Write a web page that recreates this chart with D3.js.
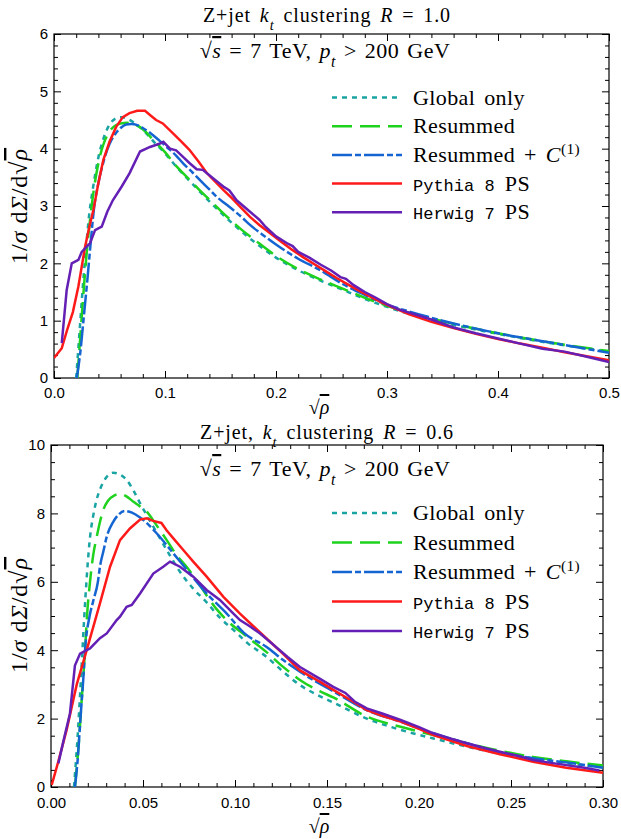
<!DOCTYPE html>
<html>
<head>
<meta charset="utf-8">
<script src="https://cdnjs.cloudflare.com/ajax/libs/d3/7.8.5/d3.min.js"></script>
<style>
body { margin: 0; background: #fff; }
svg text { font-family: "Liberation Serif", "DejaVu Serif", serif; fill: #000; }
.tick text { font-family: "Liberation Sans", Arial, sans-serif; font-size: 15px; }
.tick line { stroke: #000; }
.mono { font-family: "Liberation Mono", "DejaVu Sans Mono", monospace; }
</style>
</head>
<body>
<svg id="chart" width="621" height="839"></svg>
<script>
// ---- data: [sqrt(rho), 1/sigma dSigma/dsqrt(rho)] ----

// R = 1.0
var r10Global = [[0.020,0],[0.023,0.8],[0.026,1.6],[0.029,2.3],[0.032,2.9],[0.035,3.3],[0.04,3.85],[0.045,4.2],[0.05,4.42],[0.055,4.52],[0.06,4.55],[0.065,4.53],[0.07,4.48],[0.08,4.33],[0.09,4.12],[0.1,3.92],[0.11,3.69],[0.12,3.48],[0.13,3.28],[0.14,3.08],[0.15,2.89],[0.16,2.71],[0.17,2.54],[0.18,2.38],[0.2,2.1],[0.22,1.88],[0.24,1.7],[0.26,1.54],[0.28,1.38],[0.3,1.24],[0.35,0.97],[0.4,0.77],[0.45,0.6],[0.5,0.46]];
var r10Resum = [[0.021,0],[0.024,0.8],[0.027,1.6],[0.03,2.3],[0.033,2.85],[0.036,3.3],[0.04,3.75],[0.045,4.1],[0.05,4.3],[0.055,4.4],[0.06,4.44],[0.066,4.45],[0.07,4.44],[0.075,4.4],[0.08,4.34],[0.09,4.14],[0.1,3.94],[0.11,3.7],[0.12,3.5],[0.13,3.3],[0.14,3.11],[0.15,2.92],[0.16,2.74],[0.17,2.57],[0.18,2.42],[0.2,2.13],[0.22,1.9],[0.24,1.72],[0.26,1.56],[0.28,1.4],[0.3,1.26],[0.32,1.14],[0.35,0.99],[0.4,0.78],[0.45,0.61],[0.5,0.47]];
var r10ResumC1 = [[0.0205,0],[0.024,0.5],[0.027,1.1],[0.03,1.7],[0.033,2.35],[0.036,2.95],[0.04,3.4],[0.045,3.8],[0.05,4.08],[0.055,4.25],[0.06,4.36],[0.065,4.42],[0.07,4.43],[0.075,4.41],[0.08,4.36],[0.087,4.27],[0.095,4.14],[0.1015,4.03],[0.11,3.88],[0.1165,3.74],[0.125,3.58],[0.1315,3.45],[0.14,3.29],[0.1466,3.16],[0.155,3.03],[0.1615,2.93],[0.17,2.79],[0.1766,2.67],[0.19,2.47],[0.2,2.33],[0.22,2.08],[0.24,1.88],[0.26,1.64],[0.28,1.45],[0.3,1.28],[0.32,1.16],[0.35,1.0],[0.4,0.78],[0.45,0.61],[0.5,0.44]];
var r10Pythia = [[0,0.35],[0.007,0.52],[0.012,0.85],[0.017,1.15],[0.022,1.6],[0.028,2.29],[0.032,2.65],[0.0355,2.93],[0.04,3.4],[0.0444,3.8],[0.05,4.12],[0.056,4.38],[0.062,4.55],[0.068,4.62],[0.075,4.66],[0.082,4.66],[0.087,4.58],[0.092,4.5],[0.098,4.44],[0.107,4.27],[0.115,4.12],[0.122,3.98],[0.13,3.78],[0.1375,3.58],[0.145,3.43],[0.1525,3.28],[0.16,3.14],[0.168,2.98],[0.1766,2.81],[0.185,2.67],[0.195,2.52],[0.205,2.37],[0.215,2.23],[0.225,2.1],[0.235,1.98],[0.245,1.86],[0.255,1.74],[0.265,1.63],[0.275,1.52],[0.285,1.42],[0.295,1.32],[0.305,1.23],[0.32,1.11],[0.34,0.98],[0.36,0.87],[0.38,0.77],[0.4,0.68],[0.42,0.6],[0.44,0.53],[0.46,0.45],[0.48,0.38],[0.5,0.31]];
var r10Herwig = [[0.007,0.61],[0.0114,1.53],[0.016,2.0],[0.022,2.06],[0.025,2.2],[0.028,2.26],[0.0324,2.35],[0.037,2.58],[0.043,2.64],[0.048,2.9],[0.053,3.1],[0.061,3.34],[0.068,3.57],[0.0775,3.95],[0.0865,4.03],[0.0955,4.09],[0.0985,4.12],[0.1045,4.0],[0.11,3.97],[0.116,3.86],[0.122,3.75],[0.1285,3.64],[0.134,3.63],[0.143,3.49],[0.1525,3.34],[0.158,3.27],[0.1645,3.1],[0.1766,2.9],[0.185,2.76],[0.19,2.65],[0.2,2.47],[0.21,2.35],[0.215,2.3],[0.22,2.2],[0.23,2.1],[0.24,1.98],[0.25,1.87],[0.258,1.76],[0.263,1.73],[0.27,1.62],[0.28,1.5],[0.29,1.4],[0.3,1.29],[0.31,1.2],[0.32,1.14],[0.34,1.02],[0.36,0.88],[0.38,0.78],[0.4,0.69],[0.42,0.6],[0.44,0.51],[0.46,0.46],[0.48,0.37],[0.5,0.28]];

// R = 0.6
var r06Global = [[0.0125,0],[0.0145,1.5],[0.0165,3.4],[0.018,4.9],[0.0195,6.2],[0.0212,7.3],[0.023,7.95],[0.0248,8.4],[0.027,8.75],[0.03,9.05],[0.0339,9.19],[0.038,9.12],[0.0411,8.98],[0.045,8.65],[0.0484,8.3],[0.0556,7.61],[0.0629,6.93],[0.07,6.3],[0.0773,5.8],[0.0846,5.4],[0.0918,4.95],[0.099,4.6],[0.107,4.2],[0.117,3.81],[0.126,3.38],[0.1353,2.98],[0.146,2.66],[0.1534,2.47],[0.1716,2.0],[0.19,1.67],[0.2078,1.42],[0.226,1.18],[0.244,0.98],[0.262,0.84],[0.28,0.69],[0.3,0.58]];
var r06Resum = [[0.013,0],[0.015,1.2],[0.017,2.8],[0.0185,4.0],[0.0197,5.1],[0.0212,6.0],[0.023,6.8],[0.0248,7.3],[0.0266,7.75],[0.0284,8.1],[0.031,8.37],[0.0345,8.53],[0.0375,8.57],[0.041,8.5],[0.045,8.33],[0.048,8.22],[0.052,8.05],[0.0574,7.65],[0.0629,7.22],[0.068,6.8],[0.0737,6.44],[0.079,6.05],[0.0846,5.6],[0.09,5.2],[0.0955,4.88],[0.1064,4.4],[0.117,3.95],[0.126,3.52],[0.1353,3.13],[0.146,2.8],[0.1534,2.62],[0.1716,2.06],[0.19,1.76],[0.2078,1.52],[0.226,1.28],[0.244,1.06],[0.262,0.88],[0.28,0.75],[0.3,0.63]];
var r06ResumC1 = [[0.013,0],[0.0145,0.8],[0.016,2.0],[0.0176,3.2],[0.0185,4.0],[0.021,5.0],[0.023,5.45],[0.0255,6.0],[0.0266,6.44],[0.0285,6.9],[0.0303,7.32],[0.0339,7.76],[0.037,7.98],[0.0402,8.07],[0.044,8.02],[0.0484,7.88],[0.0574,7.42],[0.0665,6.83],[0.0755,6.24],[0.0846,5.66],[0.0955,5.07],[0.105,4.5],[0.117,4.1],[0.126,3.72],[0.1353,3.37],[0.146,3.02],[0.1534,2.8],[0.1716,2.25],[0.19,1.91],[0.2078,1.57],[0.226,1.28],[0.244,1.01],[0.262,0.84],[0.28,0.72],[0.3,0.56]];
var r06Pythia = [[0.0004,0.06],[0.004,0.75],[0.0085,1.67],[0.014,3.0],[0.0194,4.0],[0.0266,5.37],[0.0321,6.44],[0.0375,7.22],[0.0429,7.56],[0.0484,7.82],[0.052,7.86],[0.0555,7.78],[0.06,7.72],[0.0629,7.5],[0.0665,7.27],[0.0719,6.93],[0.0773,6.59],[0.0846,6.15],[0.0937,5.56],[0.1027,5.07],[0.11,4.7],[0.117,4.35],[0.126,3.9],[0.1353,3.41],[0.146,3.08],[0.1534,2.84],[0.1625,2.55],[0.1716,2.25],[0.18,2.08],[0.19,1.91],[0.2,1.7],[0.2078,1.52],[0.226,1.2],[0.244,0.96],[0.262,0.74],[0.28,0.56],[0.3,0.42]];
var r06Herwig = [[0.004,0.69],[0.007,1.4],[0.0103,2.15],[0.013,3.55],[0.0158,3.9],[0.0194,4.0],[0.0212,4.05],[0.0266,4.35],[0.0303,4.49],[0.0357,4.88],[0.0375,4.98],[0.0411,5.27],[0.0439,5.32],[0.0484,5.66],[0.0556,6.24],[0.061,6.44],[0.0647,6.59],[0.0701,6.44],[0.0773,6.15],[0.0846,5.76],[0.0918,5.47],[0.099,5.08],[0.1027,4.88],[0.108,4.7],[0.1136,4.49],[0.12,4.2],[0.1286,3.8],[0.1353,3.51],[0.146,3.17],[0.1534,2.93],[0.16,2.75],[0.165,2.5],[0.1716,2.3],[0.18,2.15],[0.19,1.96],[0.2,1.75],[0.2078,1.57],[0.215,1.45],[0.226,1.28],[0.235,1.15],[0.244,1.03],[0.253,0.92],[0.262,0.79],[0.27,0.72],[0.28,0.64],[0.29,0.56],[0.298,0.48]];

var seriesNames = ["Global only", "Resummed", "Resummed + C(1)", "Pythia 8 PS", "Herwig 7 PS"];
var seriesColors = ["#1aa3a3", "#1ed21e", "#1464d2", "#ff1a1a", "#6420b4"];
var seriesDash = ["5,5", "20,8", "20,3,6,3", null, null];

var xTicksR10 = [0, 0.1, 0.2, 0.3, 0.4, 0.5];
var yTicksR10 = [0, 1, 2, 3, 4, 5, 6];
var xTicksR06 = [0, 0.05, 0.10, 0.15, 0.20, 0.25, 0.30];
var yTicksR06 = [0, 2, 4, 6, 8, 10];

var svg = d3.select("#chart");

var panels = [
  { left: 54, right: 609, top: 34, bottom: 378,
    xDomain: [0, 0.5], yDomain: [0, 6], xTicks: xTicksR10, yTicks: yTicksR10,
    xMinor: 0.02, yMinor: 0.2, xFmt: ".1f", yFmt: "d", xPad: 9,
    series: [r10Global, r10Resum, r10ResumC1, r10Pythia, r10Herwig],
    title: [["Z+jet   ", ""], ["k", "i"], ["t", "sub"], [" clustering ", ""], ["R", "i"], [" = 1.0", ""]],
    titleY: 22, subY: 58, legendY: 97.5, legendStep: 28.7, ylabelY: 206, xlabelY: 414 },
  { left: 51, right: 603, top: 445, bottom: 787,
    xDomain: [0, 0.3], yDomain: [0, 10], xTicks: xTicksR06, yTicks: yTicksR06,
    xMinor: 0.01, yMinor: 0.5, xFmt: ".2f", yFmt: "d", xPad: 10,
    series: [r06Global, r06Resum, r06ResumC1, r06Pythia, r06Herwig],
    title: [["Z+jet, ", ""], ["k", "i"], ["t", "sub"], [" clustering ", ""], ["R", "i"], [" = 0.6", ""]],
    titleY: 439, subY: 476, legendY: 513, legendStep: 29.5, ylabelY: 615, xlabelY: 833 }
];

function addParts(text, parts) {
  parts.forEach(function(p) {
    var t = text.append("tspan").text(p[0]);
    if (p[1] === "i") t.attr("font-style", "italic");
    if (p[1] === "sub") t.attr("font-style", "italic").attr("font-size", "0.72em").attr("baseline-shift", "sub");
    if (p[1] === "sup") t.attr("font-size", "0.7em").attr("baseline-shift", "super");
    if (p[1] === "ov") t.attr("font-style", "italic").style("text-decoration", "overline");
    if (p[1] === "mono") t.attr("class", "mono").attr("font-size", "17px")
      .attr("letter-spacing", "0").attr("word-spacing", "0");
  });
}

function minorValues(domain, step, majors) {
  var n = Math.round((domain[1] - domain[0]) / step);
  return d3.range(0, n + 1).map(function(i) { return domain[0] + i * step; })
    .filter(function(v) { return !majors.some(function(m) { return Math.abs(m - v) < step / 10; }); });
}

panels.forEach(function(p, pi) {
  var x = d3.scaleLinear().domain(p.xDomain).range([p.left, p.right]);
  var y = d3.scaleLinear().domain(p.yDomain).range([p.bottom, p.top]);
  var g = svg.append("g");

  var clipId = "clip" + pi;
  svg.append("clipPath").attr("id", clipId).append("rect")
    .attr("x", p.left).attr("y", p.top).attr("width", p.right - p.left).attr("height", p.bottom - p.top);

  var xMin = minorValues(p.xDomain, p.xMinor, p.xTicks);
  var yMin = minorValues(p.yDomain, p.yMinor, p.yTicks);

  // major ticks with labels
  g.append("g").attr("transform", "translate(0," + p.bottom + ")")
    .call(d3.axisBottom(x).tickValues(p.xTicks).tickSizeInner(-7).tickSizeOuter(0).tickPadding(p.xPad).tickFormat(d3.format(p.xFmt)));
  g.append("g").attr("transform", "translate(" + p.left + ",0)")
    .call(d3.axisLeft(y).tickValues(p.yTicks).tickSizeInner(-7).tickSizeOuter(0).tickPadding(6).tickFormat(d3.format(p.yFmt)));
  g.append("g").attr("transform", "translate(0," + p.top + ")")
    .call(d3.axisTop(x).tickValues(p.xTicks).tickSizeInner(-7).tickSizeOuter(0).tickFormat(""));
  g.append("g").attr("transform", "translate(" + p.right + ",0)")
    .call(d3.axisRight(y).tickValues(p.yTicks).tickSizeInner(-7).tickSizeOuter(0).tickFormat(""));
  // minor ticks
  g.append("g").attr("transform", "translate(0," + p.bottom + ")")
    .call(d3.axisBottom(x).tickValues(xMin).tickSizeInner(-4).tickSizeOuter(0).tickFormat(""));
  g.append("g").attr("transform", "translate(0," + p.top + ")")
    .call(d3.axisTop(x).tickValues(xMin).tickSizeInner(-4).tickSizeOuter(0).tickFormat(""));
  g.append("g").attr("transform", "translate(" + p.left + ",0)")
    .call(d3.axisLeft(y).tickValues(yMin).tickSizeInner(-4).tickSizeOuter(0).tickFormat(""));
  g.append("g").attr("transform", "translate(" + p.right + ",0)")
    .call(d3.axisRight(y).tickValues(yMin).tickSizeInner(-4).tickSizeOuter(0).tickFormat(""));
  g.selectAll(".domain").remove();

  g.append("rect").attr("x", p.left).attr("y", p.top)
    .attr("width", p.right - p.left).attr("height", p.bottom - p.top)
    .attr("fill", "none").attr("stroke", "#000").attr("stroke-width", 1.2);

  // curves
  p.series.forEach(function(data, si) {
    var line = d3.line()
      .x(function(d) { return x(d[0]); })
      .y(function(d) { return y(d[1]); })
      .curve(si < 3 ? d3.curveMonotoneX : d3.curveLinear);
    g.append("path").datum(data)
      .attr("clip-path", "url(#" + clipId + ")")
      .attr("d", line)
      .attr("fill", "none")
      .attr("stroke", seriesColors[si])
      .attr("stroke-width", 2.5)
      .attr("stroke-dasharray", seriesDash[si]);
  });

  // title and subtitle
  var title = g.append("text").attr("x", 327).attr("y", p.titleY)
    .attr("text-anchor", "middle").attr("font-size", "20px")
    .attr("letter-spacing", "0.9").attr("word-spacing", "3");
  addParts(title, p.title);

  var sub = g.append("text").attr("x", 325).attr("y", p.subY)
    .attr("text-anchor", "middle").attr("font-size", "22px")
    .attr("letter-spacing", "0.5").attr("word-spacing", "2");
  addParts(sub, [["√", ""], ["s", "ov"], [" = 7 TeV, ", ""], ["p", "i"], ["t", "sub"], [" > 200 GeV", ""]]);

  // legend
  var legendLabels = [
    [["Global only", ""]],
    [["Resummed", ""]],
    [["Resummed + ", ""], ["C", "i"], ["(1)", "sup"]],
    [["Pythia 8 ", "mono"], ["PS", ""]],
    [["Herwig 7 ", "mono"], ["PS", ""]]
  ];
  seriesNames.forEach(function(name, si) {
    var ly = p.legendY + si * p.legendStep;
    g.append("line").attr("x1", 332).attr("x2", 402).attr("y1", ly).attr("y2", ly)
      .attr("stroke", seriesColors[si]).attr("stroke-width", 2.5)
      .attr("stroke-dasharray", seriesDash[si]);
    var t = g.append("text").attr("x", 413).attr("y", ly + 7).attr("font-size", "22px")
      .attr("letter-spacing", "0.4").attr("word-spacing", "3");
    addParts(t, legendLabels[si]);
  });

  // axis labels
  var yl = g.append("text").attr("transform", "translate(27," + p.ylabelY + ") rotate(-90)")
    .attr("text-anchor", "middle").attr("font-size", "24px").attr("letter-spacing", "1");
  addParts(yl, [["1/", ""], ["σ", "i"], [" d", ""], ["Σ", "i"], ["/d√", ""], ["ρ", "ov"]]);

  var xl = g.append("text").attr("x", 319).attr("y", p.xlabelY)
    .attr("text-anchor", "middle").attr("font-size", "20px");
  addParts(xl, [["√", ""], ["ρ", "ov"]]);
});
</script>
</body>
</html>
